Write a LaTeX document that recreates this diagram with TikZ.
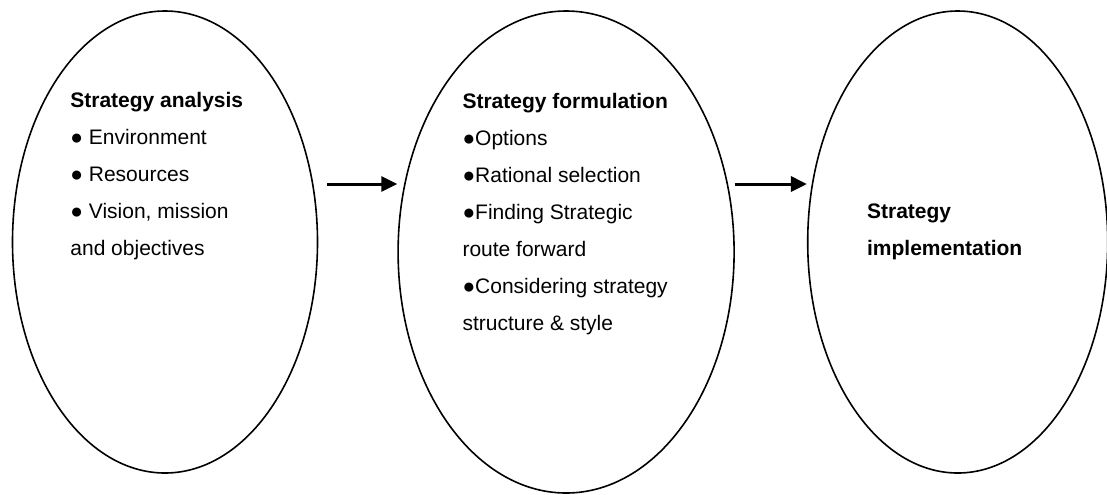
\documentclass[tikz,border=0pt]{standalone}
\usepackage{fontspec}
\setmainfont{Liberation Sans}
\usepackage{tikz}
\usetikzlibrary{shapes.geometric, arrows.meta, positioning}
\tikzset{
  stage/.style={ellipse, draw=black, line width=0.8pt, inner sep=0pt},
  stagetext/.style={align=left, anchor=north west, inner sep=0pt,
                    font=\fontsize{10.5}{18.5}\selectfont},
  arrow/.style={-{Triangle[length=8pt, width=7.5pt]}, line width=1.5pt},
}

\begin{document}
\begin{tikzpicture}[x=0.5pt, y=-0.5pt]
  \useasboundingbox (0,0) rectangle (1107,494);
  % the three stages
  \node[stage, minimum width=305pt/2, minimum height=231pt] (ana) at (165,242) {};
  \node[stage, minimum width=168pt, minimum height=241pt, right=39.5pt of ana, yshift=-5pt] (form) {};
  \node[stage, minimum width=150pt, minimum height=231pt, right=36pt of form, yshift=5pt] (impl) {};
  % texts inside
  \node[stagetext] (anatxt) at ([xshift=-47.5pt, yshift=75pt]ana.center)
    {\textbf{Strategy analysis}\\● Environment\\● Resources\\● Vision, mission\\and objectives};
  \node[stagetext] (formtxt) at ([xshift=-52pt, yshift=79.5pt]form.center)
    {\textbf{Strategy formulation}\\●Options\\●Rational selection\\●Finding Strategic\\route forward\\●Considering strategy\\structure \& style};
  \node[stagetext] (impltxt) at ([xshift=-45.5pt, yshift=19.5pt]impl.center)
    {\textbf{Strategy}\\\textbf{implementation}};
  \draw[arrow] ([xshift=4.5pt, yshift=29pt]ana.east) -- ([yshift=34pt]form.west);
  \draw[arrow] ([yshift=34pt]form.east) -- ([yshift=29pt]impl.west);
\end{tikzpicture}
\end{document}
